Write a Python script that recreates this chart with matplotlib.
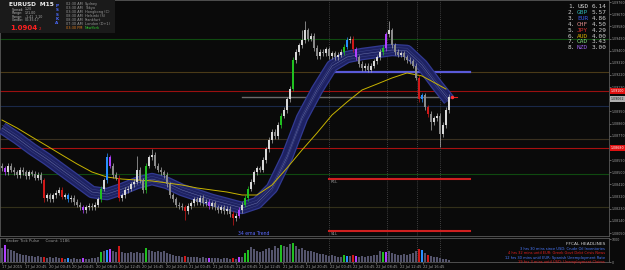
import numpy as np
import matplotlib.pyplot as plt
from matplotlib.patches import Rectangle

W, H = 625, 270

# EURUSD M15 closes, one per bar
closes = [
    1.0853, 1.0850, 1.0855, 1.0852, 1.0850, 1.0848, 1.0852, 1.0850, 1.0847, 1.0850,
    1.0849, 1.0846, 1.0848, 1.0844, 1.0831, 1.0833, 1.0830, 1.0833, 1.0835, 1.0837,
    1.0832, 1.0833, 1.0830, 1.0831, 1.0828, 1.0826, 1.0824, 1.0822, 1.0824, 1.0825,
    1.0824, 1.0826, 1.0830, 1.0838, 1.0844, 1.0861, 1.0855, 1.0848, 1.0846, 1.0831,
    1.0833, 1.0837, 1.0838, 1.0841, 1.0843, 1.0852, 1.0844, 1.0837, 1.0855, 1.0861,
    1.0863, 1.0855, 1.0852, 1.0850, 1.0848, 1.0841, 1.0833, 1.0830, 1.0826, 1.0825,
    1.0824, 1.0821, 1.0825, 1.0827, 1.0830, 1.0828, 1.0831, 1.0827, 1.0828, 1.0825,
    1.0827, 1.0824, 1.0822, 1.0824, 1.0821, 1.0823, 1.0819, 1.0816, 1.0818, 1.0822,
    1.0826, 1.0831, 1.0838, 1.0843, 1.0850, 1.0853, 1.0852, 1.0859, 1.0867, 1.0874,
    1.0880, 1.0877, 1.0885, 1.0892, 1.0896, 1.0904, 1.0912, 1.0933, 1.0939, 1.0944,
    1.0948, 1.0955, 1.0949, 1.0951, 1.0942, 1.0936, 1.0939, 1.0938, 1.0941, 1.0936,
    1.0938, 1.0935, 1.0937, 1.0939, 1.0943, 1.0948, 1.0949, 1.0941, 1.0935, 1.0930,
    1.0927, 1.0929, 1.0926, 1.0929, 1.0932, 1.0935, 1.0939, 1.0942, 1.0952, 1.0955,
    1.0944, 1.0939, 1.0937, 1.0938, 1.0935, 1.0933, 1.0932, 1.0929, 1.0920, 1.0904,
    1.0907, 1.0898, 1.0893, 1.0887, 1.0890, 1.0892, 1.0878, 1.0885, 1.0896, 1.0906,
]
first_open = 1.0855
spike_highs = {35: 1.0864, 45: 1.0862, 50: 1.0867, 100: 1.0955, 101: 1.0962, 129: 1.0962}
spike_lows = {14: 1.0828, 61: 1.0815, 77: 1.0811, 143: 1.0881, 146: 1.0869}
marked = {1: 'p', 14: 'r', 20: 'r', 22: 'b', 27: 'p', 33: 'g', 35: 'b', 36: 'p', 39: 'r',
          48: 'g', 61: 'r', 69: 'p', 77: 'r', 79: 'p', 81: 'g', 82: 'g', 93: 'g', 97: 'g',
          114: 'g', 115: 'b', 117: 'r', 118: 'p', 127: 'g', 128: 'p', 139: 'r', 140: 'b',
          142: 'r'}

volumes = [
    630, 760, 590, 540, 500, 400, 360, 320, 310, 270,
    280, 230, 260, 220, 240, 180, 200, 170, 210, 160,
    190, 150, 170, 140, 160, 150, 130, 170, 150, 140,
    160, 190, 210, 420, 480, 520, 560, 470, 430, 680,
    430, 410, 390, 420, 400, 450, 380, 400, 610, 520,
    480, 440, 500, 430, 460, 390, 350, 300, 280, 260,
    240, 280, 230, 210, 220, 200, 190, 220, 180, 170,
    160, 190, 170, 150, 180, 160, 140, 170, 150, 200,
    230, 380, 520, 650, 560, 480, 420, 500, 560, 620,
    540, 700, 600, 760, 680, 640, 800, 820, 700, 560,
    600, 540, 480, 500, 420, 380, 350, 330, 300, 280,
    300, 260, 240, 220, 300, 280, 260, 290, 250, 240,
    260, 230, 250, 280, 300, 320, 460, 440, 420, 460,
    380, 340, 320, 300, 340, 310, 360, 400, 480, 560,
    520, 380, 300, 260, 240, 200, 180, 150, 120, 90,
]

# 34 ema ribbon and the slow (yellow) average, read every 5 bars
ribbon_bars = list(range(0, 150, 5)) + [149]
ribbon_mid = [1.08828, 1.08754, 1.08672, 1.08598, 1.08517, 1.08436, 1.08354, 1.08339,
              1.08376, 1.08421, 1.08450, 1.08421, 1.08369, 1.08332, 1.08295, 1.08266,
              1.08236, 1.08273, 1.08384, 1.08613, 1.08902, 1.09109, 1.09287, 1.09353,
              1.09375, 1.09390, 1.09405, 1.09398, 1.09294, 1.09146, 1.09035]
slow_bars = list(range(0, 150, 5)) + [148]
slow_ma = [1.08887, 1.08828, 1.08761, 1.08695, 1.08628, 1.08562, 1.08502, 1.08465,
           1.08450, 1.08443, 1.08436, 1.08421, 1.08406, 1.08384, 1.08369, 1.08354,
           1.08332, 1.08332, 1.08406, 1.08532, 1.08665, 1.08791, 1.08924, 1.09020,
           1.09109, 1.09153, 1.09198, 1.09235, 1.09213, 1.09153, 1.09116]

levels = [1.0949, 1.0924, 1.0910, 1.0899, 1.0875, 1.0868, 1.0849, 1.0824]
level_colors = ['#0f4a10', '#4a3a18', '#9a1010', '#1a2848', '#3a3020', '#a81010', '#0f4a10', '#33301a']
pivot_r, pivot_s, pivot_blue = 1.0845, 1.08066, 1.0924
current_price = 1.0906

price_ticks = [round(1.0805 + 0.0009 * k, 5) for k in range(20)]
time_labels = ['17 Jul 2015', '17 Jul 20:45', '20 Jul 00:45', '20 Jul 04:45', '20 Jul 08:45',
               '20 Jul 12:45', '20 Jul 16:45', '20 Jul 20:45', '21 Jul 00:45', '21 Jul 04:45',
               '21 Jul 08:45', '21 Jul 12:45', '21 Jul 16:45', '21 Jul 20:45', '22 Jul 00:45',
               '22 Jul 04:45', '22 Jul 08:45', '22 Jul 12:45', '22 Jul 16:45']
time_ticks = [7.8 * k for k in range(len(time_labels))]

strength_names = ['USD', 'GBP', 'EUR', 'CHF', 'JPY', 'AUD', 'CAD', 'NZD']
strength_values = [6.14, 5.57, 4.86, 4.50, 4.29, 4.00, 3.43, 3.00]
strength_colors = ['#e0e0e0', '#30b0b0', '#3a5ae8', '#e08a8a', '#e03030', '#d8b000', '#80e080', '#9a60e8']

sessions = ['Sydney', 'Tokyo', 'Hongkong (C)', 'Helsinki (S)', 'Frankfurt', 'London (D+1)', 'NewYork']
session_times = ['02:30 AM', '03:30 AM', '03:30 AM', '08:30 AM', '08:30 AM', '07:30 AM', '03:30 PM']

headlines = ['3 hrs 30 mins since USD: Crude Oil Inventories',
             '4 hrs 32 mins until EUR: Greek Govt Debt Crisis News',
             '12 hrs 30 mins until EUR: Spanish Unemployment Rate',
             '19 hrs 3 mins until USD: Unemployment Claims']
headline_colors = ['#4a7aff', '#e02020', '#4a7aff', '#e02020']

special = {'g': '#20c020', 'r': '#d01818', 'b': '#2890ff', 'p': '#b040ff'}
BG = '#0a0a0a'


def fx(px):
    return px / W


def fy(py):
    return 1 - py / H


fig = plt.figure(figsize=(W / 100, H / 100), dpi=100, facecolor=BG)
ax = fig.add_axes([0, 34 / H, 609 / W, 236 / H])
axv = fig.add_axes([0, 8 / H, 609 / W, 24 / H])
for a in (ax, axv):
    a.set_facecolor(BG)
    for s in a.spines.values():
        s.set_color('#5a5a5a')
        s.set_linewidth(0.6)
    a.set_xlim(-2 / 3, 607 / 3)

ax.set_ylim(1.09775 - 236 * 0.000074, 1.09775)

# horizontal levels
for lv, c in zip(levels, level_colors):
    ax.axhline(lv, color=c, lw=0.8, zorder=1)
ax.plot([109, 156], [pivot_r, pivot_r], color='#d02020', lw=1.5, zorder=2)
ax.plot([109, 156], [pivot_s, pivot_s], color='#d02020', lw=1.5, zorder=2)
ax.plot([111, 156], [pivot_blue, pivot_blue], color='#5a5ad8', lw=1.6, zorder=2)
ax.plot([80, 150], [current_price, current_price], color='#6a6a6a', lw=1.0, zorder=2)
ax.text(109.5, pivot_r - 0.0001, 'R1L', color='#9a9a9a', fontsize=2.8, va='top')
ax.text(109.5, pivot_s - 0.0001, 'S1L', color='#9a9a9a', fontsize=2.8, va='top')

for vx in [109, 128.3, 138.3, 146]:
    ax.axvline(vx, color='#505050', lw=0.6, ls=(0, (1, 1.5)), zorder=1)
    axv.axvline(vx, color='#505050', lw=0.6, ls=(0, (1, 1.5)), zorder=1)

# ribbon and slow average
ax.plot(ribbon_bars, ribbon_mid, color='#323a92', lw=9.0, solid_capstyle='butt', zorder=3)
ax.plot(ribbon_bars, ribbon_mid, color='#1e2262', lw=7.2, solid_capstyle='butt', zorder=3)
for off, c in [(-0.0002, '#3c4488'), (0.0, '#6a72a8'), (0.0002, '#3c4488')]:
    ax.plot(ribbon_bars, np.array(ribbon_mid) + off, color=c, lw=0.35, zorder=3)
ax.plot(slow_bars, slow_ma, color='#c8b400', lw=0.7, zorder=4)

# candles
x = np.arange(len(closes))
opens = [first_open] + closes[:-1]
for i in x:
    o, c = opens[i], closes[i]
    hi = spike_highs.get(i, max(o, c) + 0.0002)
    lo = spike_lows.get(i, min(o, c) - 0.0002)
    if i in marked:
        col = special[marked[i]]
        wcol = col
    else:
        col = '#d8d8d8' if c >= o else '#8a8a8a'
        wcol = '#b0b0b0'
    ax.vlines(i, lo, hi, color=wcol, lw=0.5, zorder=5)
    bot = min(o, c)
    ax.bar(i, max(abs(c - o), 0.00003), bottom=bot, width=0.55, color=col, lw=0, zorder=6)

ax.plot([150, 151.5], [current_price, current_price], color='#e02020', lw=0.8, zorder=6)
ax.plot([150], [current_price], 'o', color='#ff3030', ms=1.5, zorder=6)

ax.text(84, 1.0805, '34 ema Trend', color='#5a6aff', fontsize=3.3, ha='center', va='center')

ax.yaxis.tick_right()
ax.set_yticks(price_ticks)
ax.set_yticklabels(['%.5f' % p for p in price_ticks])
ax.tick_params(axis='y', colors='#a0a0a0', labelsize=2.3, length=1.2, width=0.4, pad=0.5)
ax.set_xticks([])

# volume
vcols = [special[marked[i]] if i in marked else '#54546c' for i in x]
axv.bar(x, volumes, width=0.6, color=vcols, lw=0)
axv.set_ylim(0, 1050)
axv.yaxis.tick_right()
axv.set_yticks([0, 1000])
axv.set_yticklabels(['0', '1000'])
axv.tick_params(axis='y', colors='#a0a0a0', labelsize=2.3, length=1.2, width=0.4, pad=0.5)
axv.set_xticks(time_ticks)
axv.set_xticklabels(time_labels, ha='left')
axv.tick_params(axis='x', colors='#a0a0a0', labelsize=2.6, length=1.5, width=0.4, pad=0.5)
axv.text(1.5, 990, 'Broker Tick Pulse     Count: 1186', color='#9a9a9a', fontsize=2.8, va='top')

# price boxes on the axis
for py, txt, bc, tc in [(91, '1.09100', '#e01010', '#ffffff'), (99, '1.09062', '#b0b0b0', '#202020'),
                        (148, '1.08680', '#e01010', '#ffffff')]:
    fig.text(fx(610.5), fy(py), txt, fontsize=2.3, color=tc, va='center',
             bbox=dict(boxstyle='square,pad=0.25', fc=bc, ec='none'))

# info box top-left
fig.add_artist(Rectangle((0, fy(33)), fx(115), 33 / H, transform=fig.transFigure,
                         facecolor='#1a1a1a', edgecolor='none', zorder=5))
fig.text(fx(9), fy(4.5), 'EURUSD  M15', color='#f0f0f0', fontsize=4.2, weight='bold', va='center', zorder=6)
info = [('Spread:', '1.20'), ('Range:', '121.00'), ('Range:', '-1.41  1.10'), ('Candle:', '00:35:17')]
for k, (a, b) in enumerate(info):
    fig.text(fx(12), fy(9.5 + 3.6 * k), a, color='#b0b0b0', fontsize=2.3, va='center', zorder=6)
    fig.text(fx(25), fy(9.5 + 3.6 * k), b, color='#b0b0b0', fontsize=2.3, va='center', zorder=6)
fig.text(fx(10), fy(27.5), '1.0904', color='#ff2020', fontsize=5, weight='bold', va='center', zorder=6)
fig.text(fx(38.5), fy(28.5), '2', color='#ff2020', fontsize=2.8, va='center', zorder=6)
for k, ch in enumerate('PSSKA'):
    fig.text(fx(57), fy(6 + 4.3 * k), ch, color='#4a6aff', fontsize=3, weight='bold',
             ha='center', va='center', zorder=6)
for k, (t, s) in enumerate(zip(session_times, sessions)):
    last = k == len(sessions) - 1
    fig.text(fx(66), fy(4 + 4 * k), t, color='#e08020' if last else '#9a9a9a', fontsize=2.5,
             va='center', zorder=6)
    fig.text(fx(85), fy(4 + 4 * k), s, color='#30d030' if last else '#9a9a9a', fontsize=2.5,
             va='center', zorder=6)

# currency strength
for k, (n, v, c) in enumerate(zip(strength_names, strength_values, strength_colors)):
    yy = fy(7 + 5.8 * k)
    fig.text(fx(568), yy, '%d.' % (k + 1), color='#d0d0d0', fontsize=4.4, family='DejaVu Sans Mono', va='center')
    fig.text(fx(577), yy, n, color=c, fontsize=4.4, family='DejaVu Sans Mono', va='center')
    fig.text(fx(592), yy, '%.2f' % v, color='#d0d0d0', fontsize=4.4, family='DejaVu Sans Mono', va='center')

# headlines
fig.text(fx(605), fy(244), 'FFCAL HEADLINES', color='#d0d0d0', fontsize=3.2, ha='right', va='center')
for k, (t, c) in enumerate(zip(headlines, headline_colors)):
    fig.text(fx(605), fy(249.5 + 4 * k), t, color=c, fontsize=2.6, ha='right', va='center')

fig.savefig('out.png', dpi=100, facecolor=BG)
